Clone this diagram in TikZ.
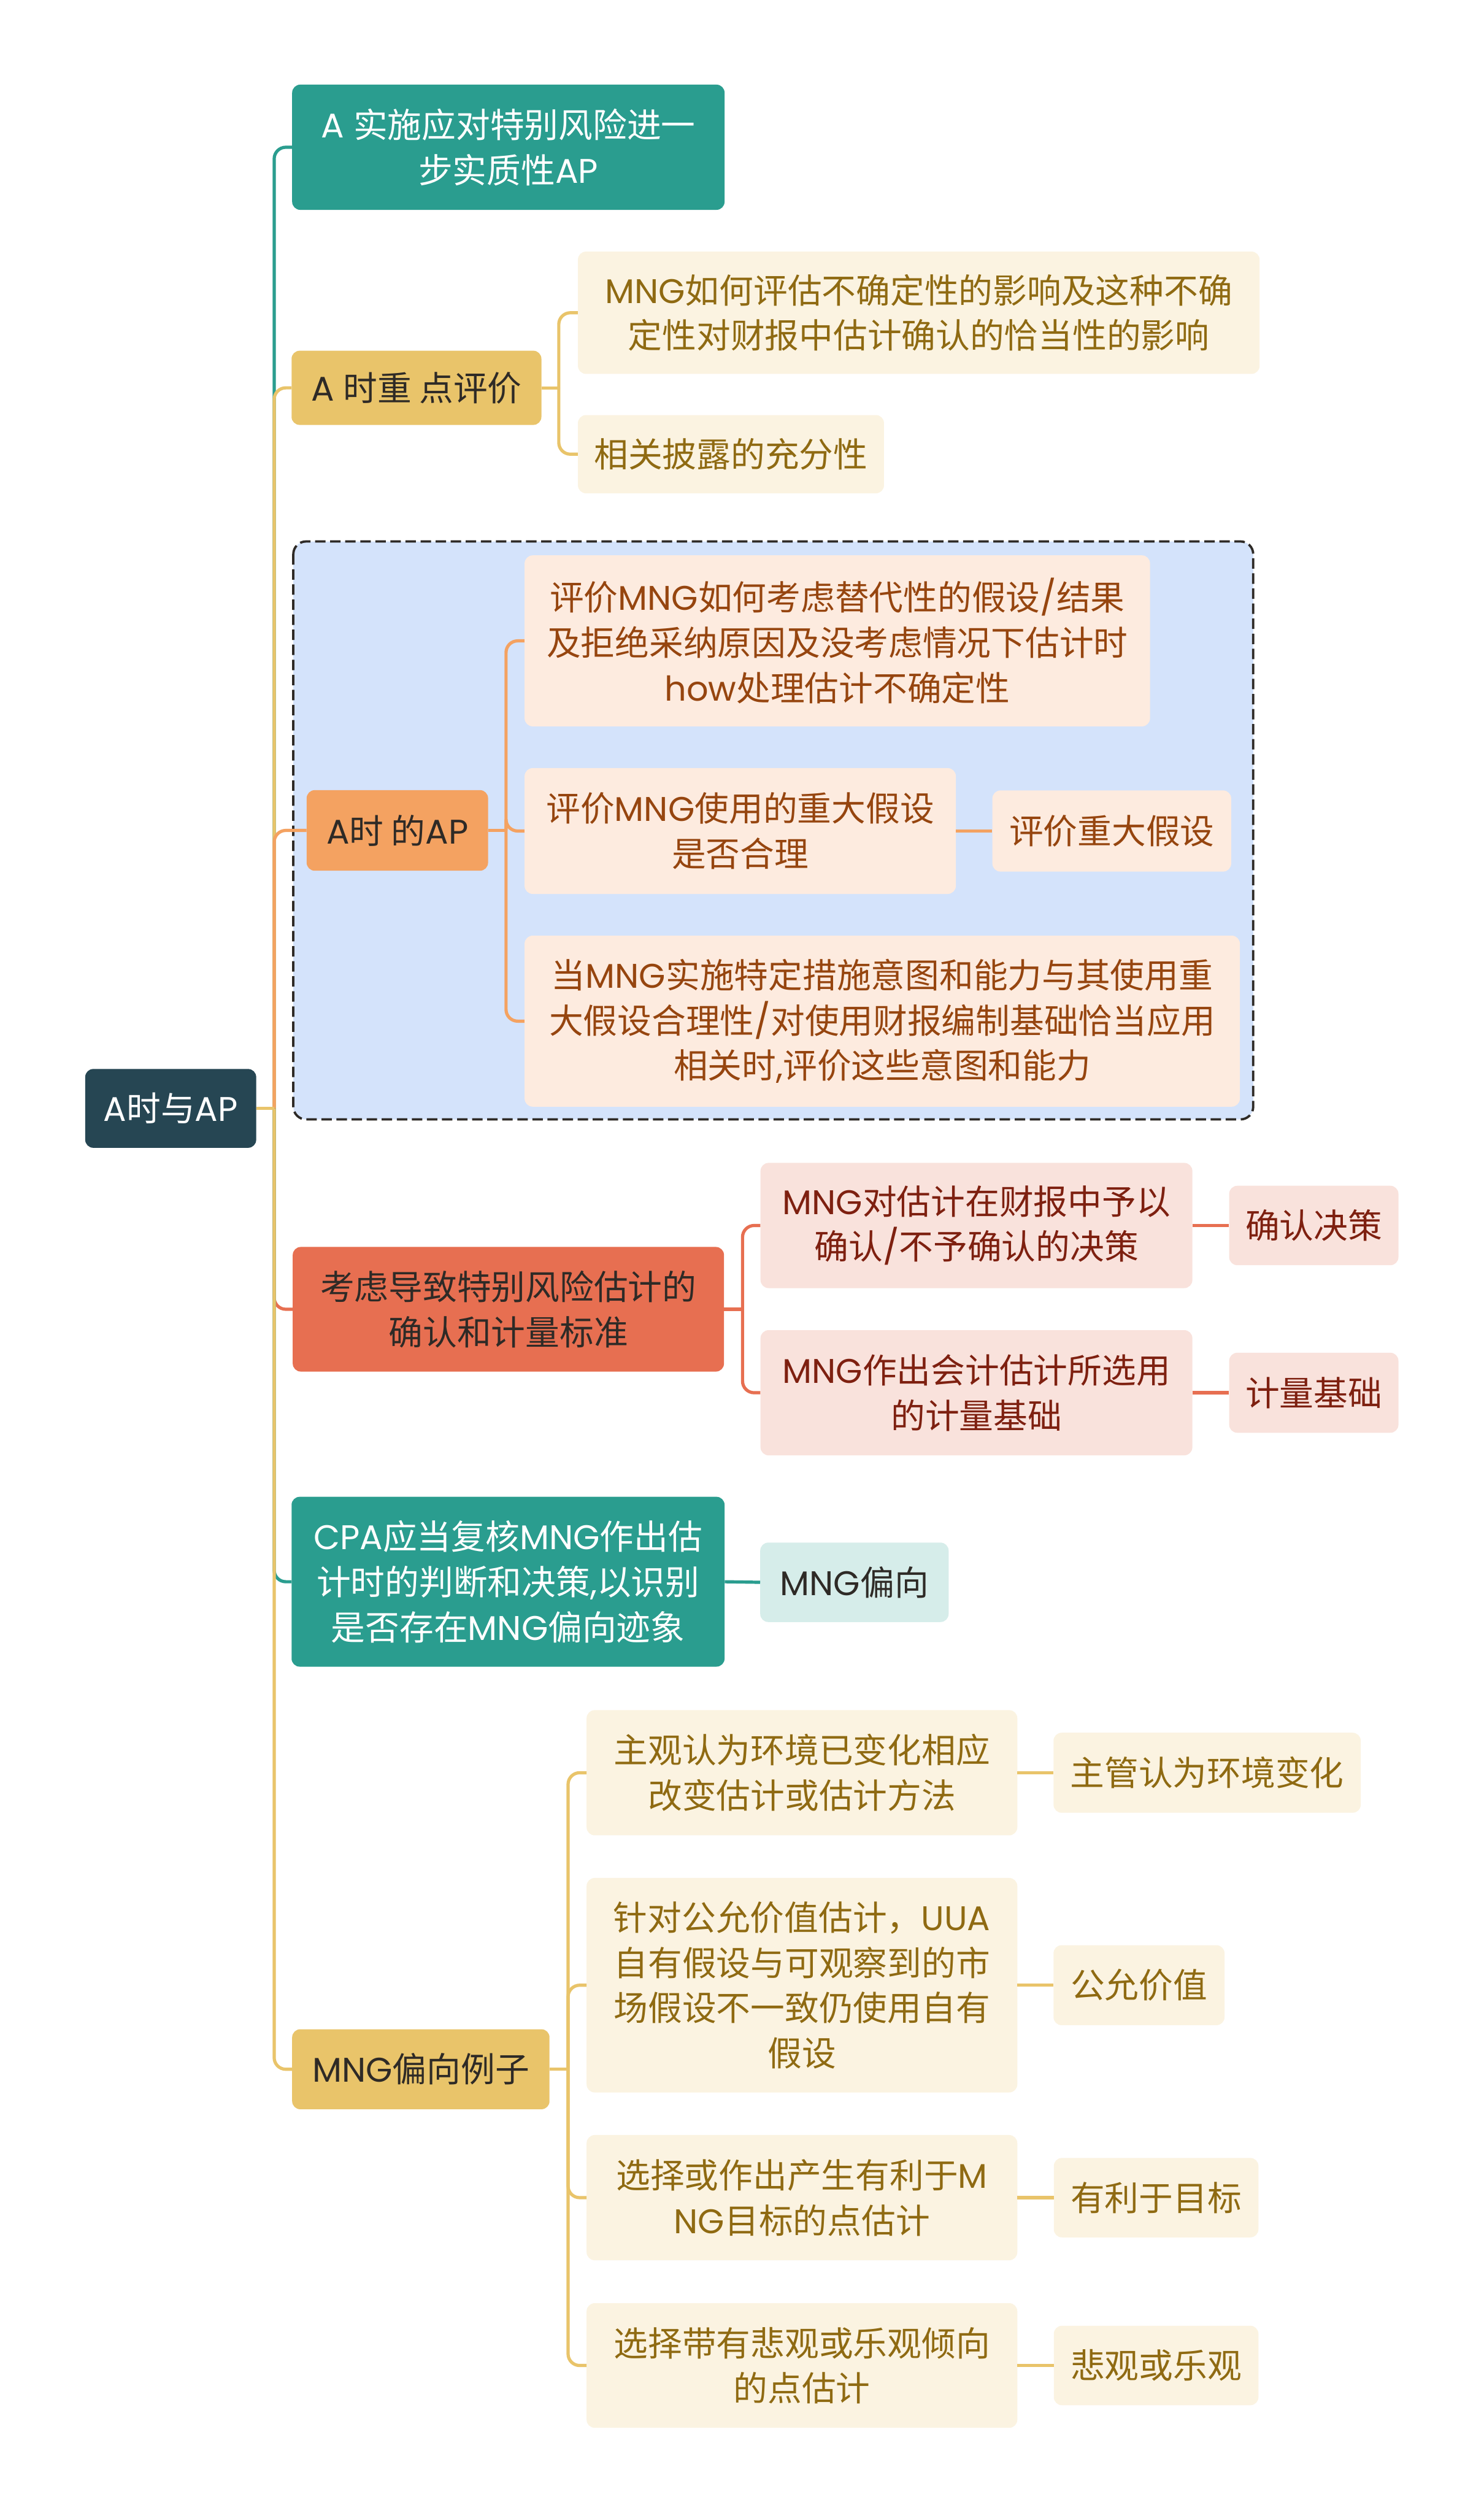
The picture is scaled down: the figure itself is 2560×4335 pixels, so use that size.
\documentclass[tikz,border=0pt]{standalone}
\usepackage{fontspec}
\setmainfont{Noto Sans CJK SC}
\newfontfamily\latf{Poppins}
\newcommand\Lt[1]{{\latf #1}}
\definecolor{teal}{HTML}{2A9D8F}
\definecolor{gold}{HTML}{E9C46A}
\definecolor{orng}{HTML}{F4A261}
\definecolor{redd}{HTML}{E76F51}
\definecolor{dark}{HTML}{264653}
\definecolor{goldL}{HTML}{FBF3E1}
\definecolor{orngL}{HTML}{FDEBDF}
\definecolor{reddL}{HTML}{F9E2DC}
\definecolor{tealL}{HTML}{D6EDEA}
\definecolor{blueL}{HTML}{D4E3FB}
\definecolor{goldT}{HTML}{8F6A12}
\definecolor{orngT}{HTML}{96450F}
\definecolor{reddT}{HTML}{7E2010}
\definecolor{txtD}{HTML}{2E2A26}
\newcommand\fsz{\fontsize{59}{78}\selectfont}
\tikzset{
  box/.style={rectangle, rounded corners=14pt, inner sep=0pt, align=center, font=\fsz},
  ln/.style={line width=5.5pt, rounded corners=20pt},
}
\begin{document}
\begin{tikzpicture}[x=1pt,y=-1pt]
\useasboundingbox (0,0) rectangle (2560,4335);
\fill[white] (0,0) rectangle (2560,4335);
% blue dashed group
\draw[fill=blueL, draw=txtD, line width=4pt, dash pattern=on 18pt off 8pt, rounded corners=22pt] (506,934) rectangle (2162,1931);

% nodes
\node[box, fill=dark, text=white, minimum width=295pt, minimum height=136pt] (root) at (294.5,1912) {\Lt{A}时与\Lt{AP}};

\node[box, fill=teal, text=white, minimum width=746pt, minimum height=216pt] (n1) at (877,254) {\Lt{A }实施应对特别风险进一\\步实质性\Lt{AP}};

\node[box, fill=gold, text=txtD, minimum width=431pt, minimum height=128pt] (n2) at (718.5,669) {\Lt{A }时重 点评价};
\node[box, fill=goldL, text=goldT, minimum width=1176pt, minimum height=211pt] (n2a) at (1585,539.5) {\Lt{MNG}如何评估不确定性的影响及这种不确\\定性对财报中估计确认的恰当性的影响};
\node[box, fill=goldL, text=goldT, minimum width=528pt, minimum height=135pt] (n2b) at (1261,783.5) {相关披露的充分性};

\node[box, fill=orng, text=txtD, minimum width=313pt, minimum height=139pt] (n3) at (685.5,1432.5) {\Lt{A}时 的\Lt{AP}};
\node[box, fill=orngL, text=orngT, minimum width=1079pt, minimum height=295pt] (n3a) at (1444.5,1105.5) {评价\Lt{MNG}如何考虑替代性的假设\Lt{/}结果\\及拒绝采纳原因及没考虑情况下估计时\\\Lt{how}处理估计不确定性};
\node[box, fill=orngL, text=orngT, minimum width=744pt, minimum height=217pt] (n3b) at (1277,1433.5) {评价\Lt{MNG}使用的重大假设\\是否合理};
\node[box, fill=orngL, text=orngT, minimum width=412pt, minimum height=140pt] (n3b1) at (1918,1433.5) {评价重大假设};
\node[box, fill=orngL, text=orngT, minimum width=1234pt, minimum height=295pt] (n3c) at (1522,1761.5) {当\Lt{MNG}实施特定措施意图和能力与其使用重\\大假设合理性\Lt{/}对使用财报编制基础恰当应用\\相关时\Lt{,}评价这些意图和能力};

\node[box, fill=redd, text=txtD, minimum width=744pt, minimum height=215pt] (n4) at (877,2258.5) {考虑导致特别风险估计的\\确认和计量标准};
\node[box, fill=reddL, text=reddT, minimum width=745pt, minimum height=216pt] (n4a) at (1684.5,2114) {\Lt{MNG}对估计在财报中予以\\确认\Lt{/}不予确认的决策};
\node[box, fill=reddL, text=reddT, minimum width=292pt, minimum height=137pt] (n4a1) at (2266.5,2114) {确认决策};
\node[box, fill=reddL, text=reddT, minimum width=745pt, minimum height=216pt] (n4b) at (1684.5,2402.5) {\Lt{MNG}作出会计估计所选用\\的计量基础};
\node[box, fill=reddL, text=reddT, minimum width=292pt, minimum height=138pt] (n4b1) at (2266.5,2402.5) {计量基础};

\node[box, fill=teal, text=white, minimum width=747pt, minimum height=293pt] (n5) at (876.5,2728.5) {\Lt{CPA}应当复核\Lt{MNG}作出估\\计时的判断和决策\Lt{,}以识别\\是否存在\Lt{MNG}偏向迹象};
\node[box, fill=tealL, text=txtD, minimum width=325pt, minimum height=137pt] (n5a) at (1474,2729.5) {\Lt{MNG}偏向};

\node[box, fill=gold, text=txtD, minimum width=444pt, minimum height=138pt] (n6) at (726,3569.5) {\Lt{MNG}偏向例子};
\node[box, fill=goldL, text=goldT, minimum width=743pt, minimum height=216pt] (n6a) at (1383.5,3058) {主观认为环境已变化相应\\改变估计或估计方法};
\node[box, fill=goldL, text=goldT, minimum width=530pt, minimum height=138pt] (n6a1) at (2082.5,3058) {主管认为环境变化};
\node[box, fill=goldL, text=goldT, minimum width=743pt, minimum height=370pt] (n6b) at (1383.5,3424.5) {针对公允价值估计，\Lt{UUA}\\自有假设与可观察到的市\\场假设不一致仍使用自有\\假设};
\node[box, fill=goldL, text=goldT, minimum width=295pt, minimum height=138pt] (n6b1) at (1965,3424.5) {公允价值};
\node[box, fill=goldL, text=goldT, minimum width=743pt, minimum height=216pt] (n6c) at (1383.5,3791) {选择或作出产生有利于\Lt{M}\\\Lt{NG}目标的点估计};
\node[box, fill=goldL, text=goldT, minimum width=353pt, minimum height=137pt] (n6c1) at (1994.5,3791) {有利于目标};
\node[box, fill=goldL, text=goldT, minimum width=743pt, minimum height=215pt] (n6d) at (1383.5,4080.5) {选择带有悲观或乐观倾向\\的点估计};
\node[box, fill=goldL, text=goldT, minimum width=353pt, minimum height=137pt] (n6d1) at (1994.5,4080.5) {悲观或乐观};

% trunk connectors
\coordinate (t) at (473,1912);
\draw[ln, teal] (root.east) -- (t);
\draw[ln, teal] (t) |- (n1.west);
\draw[ln, gold] (root.east) -- (t);
\draw[ln, gold] (t) |- (n2.west);
\draw[ln, orng] (root.east) -- (t);
\draw[ln, orng] (t) |- (n3.west);
\draw[ln, redd] (t) |- (n4.west);
\draw[ln, teal] (t) |- (n5.west);
\draw[ln, gold] (root.east) -- (t);
\draw[ln, gold] (t) |- (n6.west);

% n2 bracket
\coordinate (b2) at (964,669);
\draw[ln, gold] (n2.east) -- (b2);
\draw[ln, gold] (b2) |- (n2a.west);
\draw[ln, gold] (b2) |- (n2b.west);

% n3 bracket
\coordinate (b3) at (873,1432.5);
\draw[ln, orng] (n3.east) -- (b3);
\draw[ln, orng] (b3) |- (n3a.west);
\draw[ln, orng] (b3) |- (n3b.west);
\draw[ln, orng] (b3) |- (n3c.west);
\draw[ln, orng] (n3b.east) -- (n3b1.west);

% n4 bracket
\coordinate (b4) at (1281,2258.5);
\draw[ln, redd] (n4.east) -- (b4);
\draw[ln, redd] (b4) |- (n4a.west);
\draw[ln, redd] (b4) |- (n4b.west);
\draw[ln, redd] (n4a.east) -- (n4a1.west);
\draw[ln, redd] (n4b.east) -- (n4b1.west);

% n5
\draw[ln, teal] (n5.east) -- (n5a.west);

% n6 bracket
\coordinate (b6) at (980,3569.5);
\draw[ln, gold] (n6.east) -- (b6);
\draw[ln, gold] (b6) |- (n6a.west);
\draw[ln, gold] (b6) |- (n6b.west);
\draw[ln, gold] (b6) |- (n6c.west);
\draw[ln, gold] (b6) |- (n6d.west);
\draw[ln, gold] (n6a.east) -- (n6a1.west);
\draw[ln, gold] (n6b.east) -- (n6b1.west);
\draw[ln, gold] (n6c.east) -- (n6c1.west);
\draw[ln, gold] (n6d.east) -- (n6d1.west);
\end{tikzpicture}
\end{document}
